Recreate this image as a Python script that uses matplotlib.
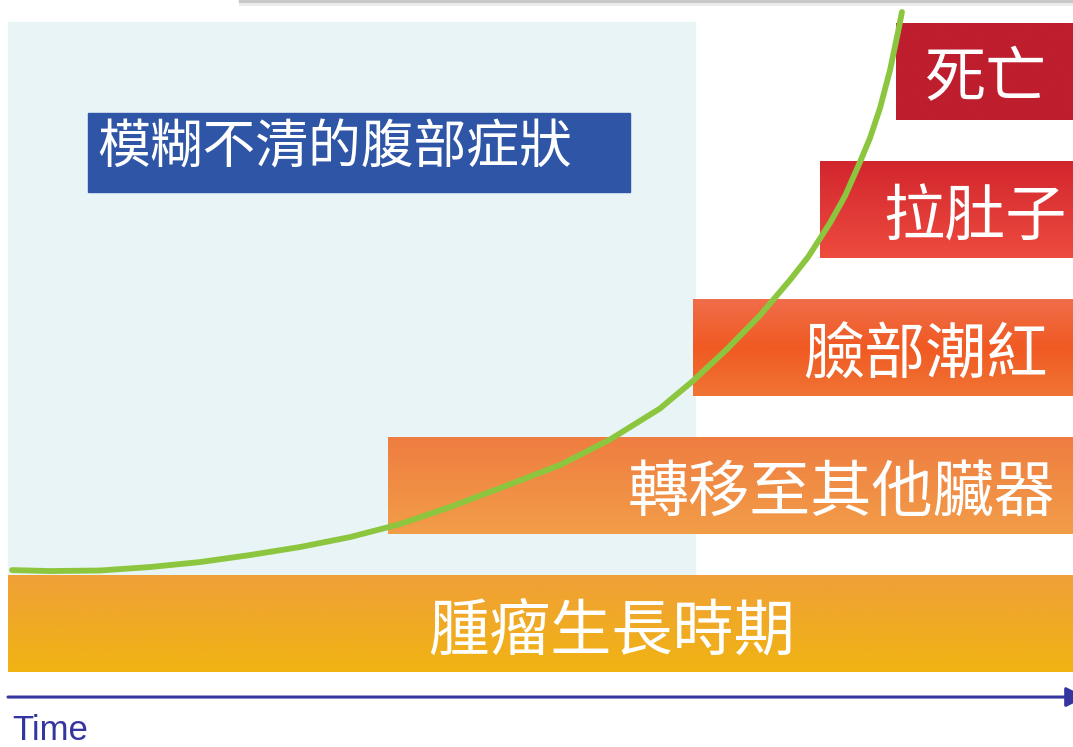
import numpy as np
import matplotlib.pyplot as plt
from matplotlib.colors import LinearSegmentedColormap
from matplotlib.patches import Rectangle

plt.rcParams['font.family'] = ['Noto Sans CJK TC', 'DejaVu Sans']

# stages, bottom to top
stages = ['腫瘤生長時期', '轉移至其他臟器', '臉部潮紅', '拉肚子', '死亡']
stage_start = [0, 35.7, 64.3, 76.2, 83.4]
stage_level = [0, 1, 2, 3, 4]
stage_colors = [
    ['#F0A038', '#F0B412'],
    ['#EF7D41', '#F29D48'],
    ['#F06D4A', '#F05A22', '#F07434'],
    ['#D2262E', '#EE4B3F'],
    ['#BE1E2D', '#BE1E2D'],
]
label_x = [56.7, 78.3, 86.1, 90.8, 91.8]

vague_label = '模糊不清的腹部症狀'
vague_end = 64.5

# green curve
curve_t = [0.38, 3.94, 8.64, 13.33, 18.03, 22.72, 27.42, 32.11, 36.81,
           41.50, 46.20, 51.83, 56.53, 61.22, 64.32, 67.51, 70.61, 73.43,
           75.12, 77.18, 78.59, 80.00, 80.94, 81.88, 82.82, 83.57, 83.94]
curve_level = [0.739, 0.732, 0.736, 0.761, 0.797, 0.848, 0.906, 0.978,
               1.072, 1.196, 1.333, 1.500, 1.685, 1.910, 2.110, 2.340,
               2.585, 2.841, 3.007, 3.254, 3.449, 3.696, 3.870, 4.087,
               4.362, 4.638, 4.783]

t_end = 100
bar_h = 0.70

fig = plt.figure(figsize=(10.73, 7.47), dpi=100)
ax = fig.add_axes([0, 0, 1, 1])

# light blue zone for vague symptoms
ax.add_patch(Rectangle((0, bar_h), vague_end, 4.01,
                       color='#E8F4F6', zorder=0))

def grad_bar(x0, x1, y0, y1, colors):
    cmap = LinearSegmentedColormap.from_list('g', colors)
    grad = np.linspace(0, 1, 256).reshape(-1, 1)
    ax.imshow(grad, extent=[x0, x1, y0, y1], origin='upper', cmap=cmap,
              aspect='auto', interpolation='bilinear', zorder=1)

for i in range(len(stages)):
    y0 = stage_level[i]
    grad_bar(stage_start[i], t_end, y0, y0 + bar_h, stage_colors[i])
    ax.text(label_x[i], y0 + bar_h / 2 - 0.06, stages[i], color='white',
            fontsize=44, ha='center', va='center', zorder=3)

# blue box
ax.add_patch(Rectangle((7.5, 3.48), 50.9, 0.57, color='#2F55A6', zorder=2))
ax.text(8.4, 3.80, vague_label, color='white', fontsize=38,
        ha='left', va='center', zorder=3)

ax.plot(curve_t, curve_level, color='#8CC63F', lw=4.2,
        solid_capstyle='round', solid_joinstyle='round', zorder=4)

# time arrow
ax.annotate('', xy=(101.2, -0.181), xytext=(0, -0.181),
            annotation_clip=False,
            arrowprops=dict(arrowstyle='-|>', color='#3535A0', lw=2.2,
                            mutation_scale=30, shrinkA=0, shrinkB=0))
ax.text(0.4, -0.49, 'Time', color='#3535A0', fontsize=25,
        family='Liberation Sans', ha='left', va='baseline')

# faint shadow at the top edge
ax.plot([21.8, t_end], [4.86, 4.86], color='#C8C8C8', lw=2.5, zorder=1)
ax.plot([21.8, t_end], [4.84, 4.84], color='#EBEBEB', lw=2, zorder=1)

ax.set_xlim(-0.75, 100)
ax.set_ylim(-0.543, 4.87)
ax.axis('off')

fig.savefig('out.png', dpi=100)
